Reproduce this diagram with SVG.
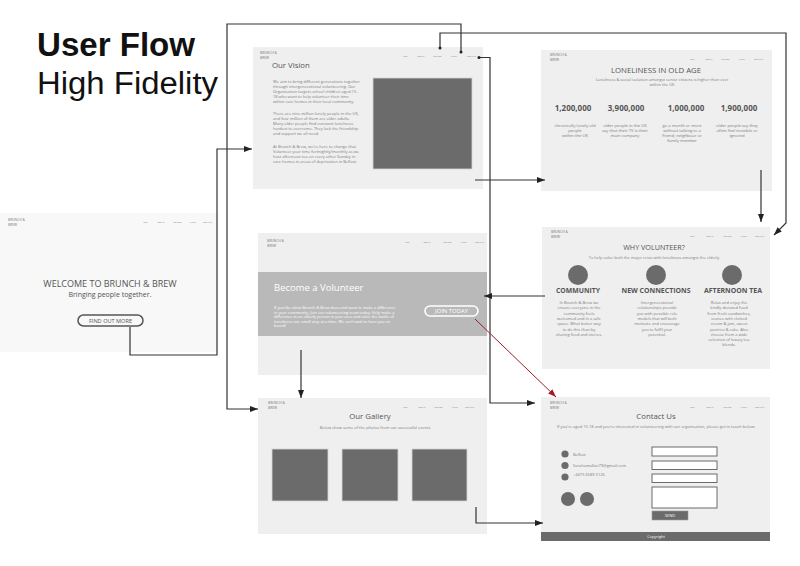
<svg xmlns="http://www.w3.org/2000/svg" width="800" height="566" viewBox="0 0 800 566">
<style>
text{font-family:"Open Sans","Liberation Sans",sans-serif}
.title{font-family:"Liberation Sans",Arial,sans-serif;fill:#111}
.pg{fill:#efefef}
.logo{font-size:3.3px;fill:#777}
.nav{font-size:1.5px;fill:#777}
.h{fill:#555}
.b{font-size:4px;fill:#7a7a7a}
.bc{font-size:4.2px;fill:#7a7a7a;text-anchor:middle}
.bw{font-size:3.9px;fill:#fff}
.img{fill:#6b6b6b;stroke:#d6d6d6;stroke-width:0.8}
.c{fill:none;stroke:#333;stroke-width:1.2}
.dot{fill:#222}
.mid{text-anchor:middle}
.num{font-size:8px;font-weight:bold;fill:#555;text-anchor:middle}
.col{font-size:7px;font-weight:bold;fill:#555;text-anchor:middle}
.field{fill:#fff;stroke:#6b6b6b;stroke-width:1}
</style>
<defs>
<marker id="ah" markerUnits="userSpaceOnUse" markerWidth="8" markerHeight="6" viewBox="0 0 8 6" refX="8" refY="3" orient="auto"><path d="M0,0 L8,3 L0,6 z" fill="#222"/></marker>
<marker id="ahr" markerUnits="userSpaceOnUse" markerWidth="8" markerHeight="6" viewBox="0 0 8 6" refX="8" refY="3" orient="auto"><path d="M0,0 L8,3 L0,6 z" fill="#a01c2a"/></marker>
</defs>

<!-- heading -->
<g id="title">
<text class="title" x="37" y="56" font-size="34" font-weight="bold" textLength="158" lengthAdjust="spacingAndGlyphs">User Flow</text>
<text class="title" x="37" y="94" font-size="31" textLength="181" lengthAdjust="spacingAndGlyphs">High Fidelity</text>
</g>

<!-- home page -->
<g id="home">
<rect x="0" y="213" width="218" height="139" fill="#f7f8f7"/>
<text class="logo" x="8" y="221">BRUNCH &amp;</text>
<text class="logo" x="8" y="226">BREW</text>
<g class="nav"><text x="143" y="223">HOME</text><text x="157" y="223">ABOUT US</text><text x="173" y="223">VOLUNTEER</text><text x="190" y="223">GALLERY</text><text x="203" y="223">CONTACT US</text></g>
<text class="h mid" x="110" y="287" font-size="9">WELCOME TO BRUNCH &amp; BREW</text>
<text class="h mid" x="110" y="297" font-size="7">Bringing people together.</text>
<rect x="78" y="315" width="65" height="11" rx="5.5" fill="none" stroke="#555" stroke-width="1.5"/>
<text class="h mid" x="110.5" y="322.6" font-size="5.6">FIND OUT MORE</text>
</g>

<!-- our vision page -->
<g id="vision">
<rect class="pg" x="253" y="47" width="230" height="142"/>
<text class="logo" x="260" y="54">BRUNCH &amp;</text>
<text class="logo" x="260" y="59">BREW</text>
<g class="nav"><text x="403" y="57">HOME</text><text x="417" y="57">ABOUT US</text><text x="433" y="57">VOLUNTEER</text><text x="451" y="57">GALLERY</text><text x="467" y="57">CONTACT US</text></g>
<text class="h" x="272" y="68" font-size="7.8">Our Vision</text>
<g class="b">
<text x="273" y="83">We aim to bring different generations together</text>
<text x="273" y="88">through intergenerational volunteering. Our</text>
<text x="273" y="93">Organisation targets school children aged 15 -</text>
<text x="273" y="98">18 who want to help volunteer their time</text>
<text x="273" y="103">within care homes in their local community.</text>
<text x="273" y="115">There are nine million lonely people in the UK,</text>
<text x="273" y="120">and four million of them are older adults.</text>
<text x="273" y="125">Many older people find constant loneliness</text>
<text x="273" y="130">hardest to overcome. They lack the friendship</text>
<text x="273" y="135">and support we all need.</text>
<text x="273" y="148">At Brunch &amp; Brew, we're here to change that.</text>
<text x="273" y="153">Volunteer your time fortnightly/monthly as we</text>
<text x="273" y="158">host afternoon tea on every other Sunday in</text>
<text x="273" y="163">care homes in areas of deprivation in Belfast.</text>
</g>
<rect class="img" x="373" y="78" width="99" height="91"/>
</g>

<!-- loneliness page -->
<g id="loneliness">
<rect class="pg" x="541" y="50" width="231" height="141"/>
<text class="logo" x="550" y="56">BRUNCH &amp;</text>
<text class="logo" x="550" y="61">BREW</text>
<g class="nav"><text x="690" y="60">HOME</text><text x="705" y="60">ABOUT US</text><text x="721" y="60">VOLUNTEER</text><text x="739" y="60">GALLERY</text><text x="754" y="60">CONTACT US</text></g>
<text class="h mid" x="656" y="73" font-size="7.8">LONELINESS IN OLD AGE</text>
<text class="b mid" x="662" y="81" font-size="3.9">Loneliness &amp; social isolation amongst senior citizens is higher than ever</text>
<text class="b mid" x="662" y="86" font-size="3.9">within the UK</text>
<text class="num" x="573" y="111">1,200,000</text>
<text class="num" x="626" y="111">3,900,000</text>
<text class="num" x="686" y="111">1,000,000</text>
<text class="num" x="739" y="111">1,900,000</text>
<g class="bc">
<text x="575" y="127">chronically lonely old</text><text x="575" y="132">people</text><text x="575" y="137">within the UK</text>
<text x="625" y="127">older people in the UK</text><text x="625" y="132">say that their TV is their</text><text x="625" y="137">main company</text>
<text x="682" y="127">go a month or more</text><text x="682" y="132">without talking to a</text><text x="682" y="137">friend, neighbour or</text><text x="682" y="142">family member</text>
<text x="737" y="127">older people say they</text><text x="737" y="132">often feel invisible or</text><text x="737" y="137">ignored</text>
</g>
</g>

<!-- become a volunteer page -->
<g id="volunteer">
<rect class="pg" x="258" y="233" width="229" height="142"/>
<text class="logo" x="267" y="242">BRUNCH &amp;</text>
<text class="logo" x="267" y="247">BREW</text>
<g class="nav"><text x="405" y="243">HOME</text><text x="423" y="243">ABOUT US</text><text x="443" y="243">VOLUNTEER</text><text x="461" y="243">GALLERY</text><text x="475" y="243">CONTACT US</text></g>
<rect x="258" y="272" width="229" height="64" fill="#b9b9b9"/>
<text x="274" y="291" font-size="9.5" fill="#fff">Become a Volunteer</text>
<g class="bw">
<text x="274" y="309">If you like what Brunch &amp; Brew does and want to make a difference</text>
<text x="274" y="313.6">in your community. Join our volunteering team today. Help make a</text>
<text x="274" y="318.2">difference to an elderly person in your area and solve the battle of</text>
<text x="274" y="322.8">loneliness one small step at a time. We can't wait to have you on</text>
<text x="274" y="327.4">board!</text>
</g>
<rect x="425" y="306" width="53" height="10" rx="5" fill="none" stroke="#fff" stroke-width="1.6"/>
<text class="mid" x="451.5" y="313.2" font-size="5.9" fill="#fff">JOIN TODAY</text>
</g>

<!-- why volunteer page -->
<g id="why">
<rect class="pg" x="542" y="227" width="228" height="142"/>
<text class="logo" x="551" y="233">BRUNCH &amp;</text>
<text class="logo" x="551" y="238">BREW</text>
<g class="nav"><text x="690" y="237">HOME</text><text x="706" y="237">ABOUT US</text><text x="723" y="237">VOLUNTEER</text><text x="741" y="237">GALLERY</text><text x="755" y="237">CONTACT US</text></g>
<text class="h mid" x="654" y="250" font-size="7.2">WHY VOLUNTEER?</text>
<text class="b mid" x="654" y="259" font-size="3.9">To help solve both the major crisis with loneliness amongst the elderly</text>
<circle cx="578" cy="275" r="10" fill="#6b6b6b"/>
<circle cx="656" cy="275" r="10" fill="#6b6b6b"/>
<circle cx="732" cy="275" r="10" fill="#6b6b6b"/>
<text class="col" x="578" y="293" textLength="44" lengthAdjust="spacingAndGlyphs">COMMUNITY</text>
<text class="col" x="656" y="293" textLength="69" lengthAdjust="spacingAndGlyphs">NEW CONNECTIONS</text>
<text class="col" x="733" y="293" textLength="58" lengthAdjust="spacingAndGlyphs">AFTERNOON TEA</text>
<g class="bc" style="font-size:4px">
<text x="579" y="304">In Brunch &amp; Brew we</text><text x="579" y="309.3">ensure everyone in the</text><text x="579" y="314.6">community feels</text><text x="579" y="319.9">welcomed and in a safe</text><text x="579" y="325.2">space. What better way</text><text x="579" y="330.5">to do this than by</text><text x="579" y="335.8">sharing food and stories.</text>
<text x="657" y="304">Intergenerational</text><text x="657" y="309.3">relationships provide</text><text x="657" y="314.6">you with possible role</text><text x="657" y="319.9">models that will both</text><text x="657" y="325.2">motivate and encourage</text><text x="657" y="330.5">you to fulfil your</text><text x="657" y="335.8">potential.</text>
<text x="729" y="304">Relax and enjoy the</text><text x="729" y="309.3">kindly donated food</text><text x="729" y="314.6">from fresh sandwiches,</text><text x="729" y="319.9">scones with clotted</text><text x="729" y="325.2">cream &amp; jam, sweet</text><text x="729" y="330.5">pastries &amp; cake. Also</text><text x="729" y="335.8">choose from a wide</text><text x="729" y="341.1">selection of luxury tea</text><text x="729" y="346.4">blends.</text>
</g>
</g>

<!-- gallery page -->
<g id="gallery">
<rect class="pg" x="258" y="398" width="229" height="136"/>
<text class="logo" x="268" y="404">BRUNCH &amp;</text>
<text class="logo" x="268" y="409">BREW</text>
<g class="nav"><text x="403" y="408">HOME</text><text x="418" y="408">ABOUT US</text><text x="434" y="408">VOLUNTEER</text><text x="452" y="408">GALLERY</text><text x="465" y="408">CONTACT US</text></g>
<text class="h mid" x="370" y="419" font-size="7.8">Our Gallery</text>
<text class="b mid" x="375" y="429" font-size="3.9">Below show some of the photos from our successful events</text>
<rect class="img" x="272" y="449" width="56" height="52"/>
<rect class="img" x="342" y="449" width="56" height="52"/>
<rect class="img" x="412" y="449" width="55" height="52"/>
</g>

<!-- contact page -->
<g id="contact">
<rect class="pg" x="541" y="397" width="229" height="144"/>
<text class="logo" x="550" y="404">BRUNCH &amp;</text>
<text class="logo" x="550" y="409">BREW</text>
<g class="nav"><text x="690" y="408">HOME</text><text x="706" y="408">ABOUT US</text><text x="723" y="408">VOLUNTEER</text><text x="741" y="408">GALLERY</text><text x="755" y="408">CONTACT US</text></g>
<text class="h mid" x="656" y="419" font-size="7.8">Contact Us</text>
<text class="b mid" x="656" y="428" font-size="3.9">If you're aged 15-18 and you're interested in volunteering with our organisation, please get in touch below:</text>
<circle cx="565" cy="454" r="3.6" fill="#6b6b6b"/>
<circle cx="565" cy="465.5" r="3.6" fill="#6b6b6b"/>
<circle cx="565" cy="477" r="3.6" fill="#6b6b6b"/>
<text class="b" x="573" y="456" font-size="3.8">Belfast</text>
<text class="b" x="573" y="467" font-size="3.8">Sarahsmullan79@gmail.com</text>
<text class="b" x="573" y="476" font-size="3.8">+4475 6589 5126</text>
<circle cx="568" cy="499" r="7" fill="#6b6b6b"/>
<circle cx="587" cy="499" r="7" fill="#6b6b6b"/>
<rect class="field" x="652" y="447" width="65" height="9"/>
<rect class="field" x="652" y="461" width="65" height="8.5"/>
<rect class="field" x="652" y="474" width="65" height="8.5"/>
<rect class="field" x="652" y="487" width="65" height="21"/>
<rect x="652" y="511" width="36" height="9" fill="#6b6b6b" stroke="#999" stroke-width="0.6"/>
<text class="mid" x="670" y="517" font-size="4" fill="#fff">SEND</text>
<rect x="541" y="532" width="229" height="9" fill="#6b6b6b"/>
<text class="mid" x="656" y="538" font-size="3.9" fill="#fff">Copyright</text>
</g>

<!-- flow connectors -->
<g id="connectors">
<path class="c" d="M130,327 V355 H217 V149 H252" marker-end="url(#ah)"/>
<path class="c" d="M461,52 V24 H227 V409 H258" marker-end="url(#ah)"/>
<path class="c" d="M440,48 V33 H786 V223 L774,235" marker-end="url(#ah)"/>
<path class="c" d="M479,57.5 H490 V403 H535" marker-end="url(#ah)"/>
<path class="c" d="M475,180 H545" marker-end="url(#ah)"/>
<path class="c" d="M761,170 V222" marker-end="url(#ah)"/>
<path class="c" d="M545,296 H484" marker-end="url(#ah)"/>
<path class="c" d="M301,350 V398" marker-end="url(#ah)"/>
<path class="c" d="M476,507 V523 H543" marker-end="url(#ah)"/>
<path d="M475,319 L556,397" fill="none" stroke="#a01c2a" stroke-width="1" marker-end="url(#ahr)"/>
<circle class="dot" cx="461" cy="52" r="1.5"/>
<circle class="dot" cx="440" cy="48" r="1.5"/>
<circle class="dot" cx="479" cy="57.5" r="1.5"/>
</g>
</svg>
